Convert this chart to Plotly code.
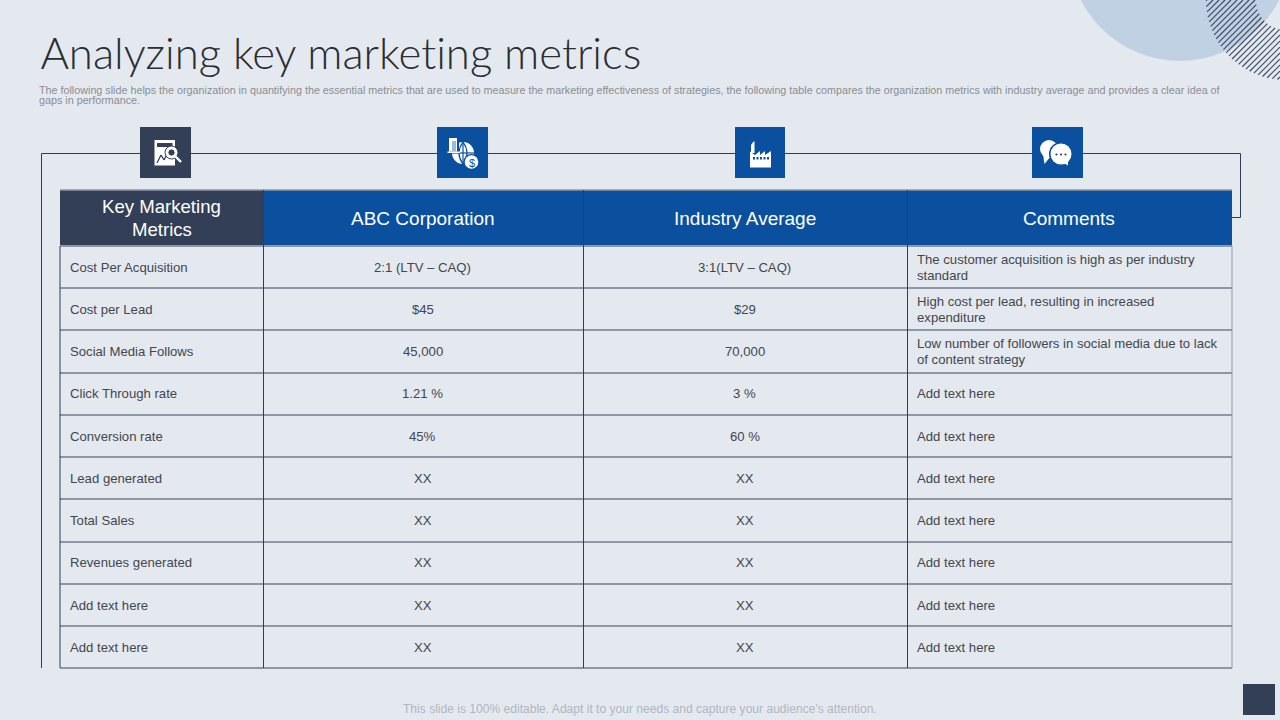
import numpy as np
import plotly.graph_objects as go

TITLE = "Analyzing key marketing metrics"
SUBTITLE = ["The following slide helps the organization in quantifying the essential metrics that are used to measure the marketing effectiveness of strategies, the following table compares the organization metrics with industry average and provides a clear idea of",
            "gaps in performance."]
FOOTER = "This slide is 100% editable. Adapt it to your needs and capture your audience's attention."
HEADERS = [["Key Marketing", "Metrics"], ["ABC Corporation"], ["Industry Average"], ["Comments"]]
METRICS = ["Cost Per Acquisition", "Cost per Lead", "Social Media Follows", "Click Through rate", "Conversion rate",
           "Lead generated", "Total Sales", "Revenues generated", "Add text here", "Add text here"]
ABC = ["2:1 (LTV \u2013 CAQ)", "$45", "45,000", "1.21 %", "45%", "XX", "XX", "XX", "XX", "XX"]
INDUSTRY = ["3:1(LTV \u2013 CAQ)", "$29", "70,000", "3 %", "60 %", "XX", "XX", "XX", "XX", "XX"]
COMMENTS = [["The customer acquisition is high as per industry", "standard"],
            ["High cost per lead, resulting in increased", "expenditure"],
            ["Low number of followers in social media due to lack", "of content strategy"],
            ["Add text here"], ["Add text here"], ["Add text here"], ["Add text here"], ["Add text here"], ["Add text here"], ["Add text here"]]
ROW_EDGES = [246, 288, 330, 373, 415, 457, 499, 542, 584, 626, 668]
ROW_TEXT_Y = [267, 309, 351, 393, 436, 478, 520, 562, 605, 647]
COL_EDGES = [60, 263.5, 583.5, 907.5, 1232]
HEAD_TOP = 190

BG = "#e4e9f0"; NAVY = "#323f56"; BLUE = "#0a509f"; LINE = "#2f3d55"; GREY = "#8f96a5"; TXT = "#42464d"
FONT = "Liberation Sans"

shapes, ann = [], []
def rect(x0, y0, x1, y1, c):
    shapes.append(dict(type="rect", xref="x", yref="y", x0=x0, y0=y0, x1=x1, y1=y1, fillcolor=c, line_width=0, layer="above"))
def seg(x0, y0, x1, y1, c=LINE, w=1):
    shapes.append(dict(type="line", xref="x", yref="y", x0=x0, y0=y0, x1=x1, y1=y1, line=dict(color=c, width=w), layer="above"))
def path(d, c="white", lc=None, lw=0):
    shapes.append(dict(type="path", xref="x", yref="y", path=d, fillcolor=c, line=dict(color=lc or c, width=lw), layer="above"))
def circ(cx, cy, r, c="white", lc=None, lw=0):
    shapes.append(dict(type="circle", xref="x", yref="y", x0=cx-r, y0=cy-r, x1=cx+r, y1=cy+r, fillcolor=c, line=dict(color=lc or c, width=lw), layer="above"))
def text(x, y, s, size=13, color=TXT, anchor="left", font=FONT, weight=None):
    f = dict(size=size, color=color, family=font)
    if weight: f["weight"] = weight
    ann.append(dict(x=x, y=y, xref="x", yref="y", text=s, showarrow=False, xanchor=anchor, yanchor="middle",
                    font=f, borderpad=0, borderwidth=0))

# corner decoration
circ(1180, -50, 111, "#c1d1e4")
CX, CY, R0, R1 = 1286, 0, 30, 80
for c in np.arange(1195, 1375, 6.0):
    ts = np.linspace(0, 90, 500)
    xs = c - ts; ys = ts
    r = np.hypot(xs - CX, ys - CY)
    inside = (r >= R0) & (r <= R1) & (xs <= 1280)
    idx = np.where(inside)[0]
    if len(idx) == 0: continue
    groups = np.split(idx, np.where(np.diff(idx) > 1)[0] + 1)
    for g in groups:
        seg(xs[g[0]], ys[g[0]], xs[g[-1]], ys[g[-1]], "#3f4c62", 1.2)

# frame
seg(41.5, 153.5, 1240.5, 153.5); seg(1240.5, 153.5, 1240.5, 217.5); seg(1232, 217.5, 1240.5, 217.5); seg(41.5, 153.5, 41.5, 668)

# header
rect(COL_EDGES[0], HEAD_TOP, COL_EDGES[1], ROW_EDGES[0], NAVY)
rect(COL_EDGES[1], HEAD_TOP, COL_EDGES[4], ROW_EDGES[0], BLUE)
seg(COL_EDGES[0], HEAD_TOP, COL_EDGES[4], HEAD_TOP, GREY, 1.5)
for i, h in enumerate(HEADERS):
    xm = (COL_EDGES[i] + COL_EDGES[i+1]) / 2 - (0.5 if i else 0)
    ym = (HEAD_TOP + ROW_EDGES[0]) / 2
    for j, l in enumerate(h):
        text(xm, ym + (j - (len(h)-1)/2) * 23, l, 18.6 if i == 0 else 19, "#ffffff", "center")

# grid
for y in ROW_EDGES:
    seg(COL_EDGES[0], y, COL_EDGES[4], y, GREY, 2)
for k, x in enumerate(COL_EDGES):
    c = GREY if k == 4 else LINE
    seg(x, HEAD_TOP if 0 < k < 4 else ROW_EDGES[0], x, ROW_EDGES[-1], c, 1)

# body text
for r in range(len(METRICS)):
    ym = ROW_TEXT_Y[r]
    text(70, ym, METRICS[r], 13.15)
    text((COL_EDGES[1]+COL_EDGES[2])/2 - 1, ym, ABC[r], 13.15, anchor="center")
    text((COL_EDGES[2]+COL_EDGES[3])/2 - 1, ym, INDUSTRY[r], 13.15, anchor="center")
    ls = COMMENTS[r]
    for j, l in enumerate(ls):
        text(917, ym + (j - (len(ls)-1)/2) * 16, l, 13.15)

# title etc
text(40, 52, TITLE, 43.7, "#2a2d33", font="Lato", weight=300)
text(39, 90, SUBTITLE[0], 10.75, "#8a8d93")
text(39, 100, SUBTITLE[1], 10.75, "#8a8d93")
text(640, 708.5, FOOTER, 12.07, "#b1b6bf", "center")
rect(1243, 684, 1275, 715, NAVY)

# icon tiles
rect(140, 127, 191, 178, NAVY); rect(437, 127, 488, 178, BLUE); rect(735, 127, 785, 178, BLUE); rect(1032, 127, 1083, 178, BLUE)
# icon 1
rect(154.5, 140, 175, 165.5, "white")
rect(157, 143, 172.5, 147, NAVY)
seg(157, 163, 161, 155, NAVY, 1.3); seg(161, 155, 164, 160, NAVY, 1.3); seg(164, 160, 168, 152, NAVY, 1.3)
circ(171.5, 152.5, 6.5, "white", NAVY, 1)
circ(171.5, 152.5, 3.6, NAVY, "white", 1)
seg(175.5, 156.5, 181, 162, "white", 2.4)
# icon 2
circ(463, 153, 11, "white")
seg(452, 153, 474, 153, BLUE, 1.2); seg(463, 142, 463, 164, BLUE, 1.2)
path("M463,142 Q455,153 463,164 Q471,153 463,142 Z", "rgba(0,0,0,0)", BLUE, 1.2)
rect(447, 137, 459, 153, BLUE)
rect(449, 138, 457, 151.5, "white"); rect(452, 141, 456, 151, "#9fb9d8")
rect(447.5, 151.5, 460, 153, "white")
circ(471.5, 162, 8, BLUE); circ(471.5, 162, 6.8, "white")
text(471.5, 162.5, "$", 11, BLUE, "center")
# icon 3
path("M751,153 L751,145 L753.5,141.5 L754.5,141.5 L754.5,153 Z")
path("M750,167.5 L750,151.5 L755,155 L760,151 L760,155 L765,151 L765,155 L771,151 L771,167.5 Z")
for x in (753, 756.5, 760, 763.5, 767):
    rect(x, 157, x + 2, 159.5, BLUE)
# icon 4
circ(1049, 149, 9)
path("M1043,154 L1044.5,164 L1051,156 Z")
circ(1061, 154, 12, BLUE)
circ(1061, 154, 10.5)
path("M1062,162 L1068,165.5 L1068,158 Z")
for x in (1056.5, 1061, 1065.5):
    circ(x, 154.5, 1.1, NAVY)

fig = go.Figure()
fig.update_layout(width=1280, height=720, margin=dict(l=0, r=0, t=0, b=0), paper_bgcolor=BG, plot_bgcolor=BG,
                  shapes=shapes, annotations=ann, showlegend=False,
                  xaxis=dict(range=[0, 1280], visible=False, fixedrange=True),
                  yaxis=dict(range=[720, 0], visible=False, fixedrange=True))
fig.write_html("out.html", post_script="document.body.style.margin='0';document.body.style.overflow='hidden';"
               "var s=document.createElement('style');s.textContent='svg text{font-variant-ligatures:none !important;font-feature-settings:\"liga\" 0,\"clig\" 0,\"calt\" 0,\"dlig\" 0 !important;}';document.head.appendChild(s);",
               config=dict(displayModeBar=False))
